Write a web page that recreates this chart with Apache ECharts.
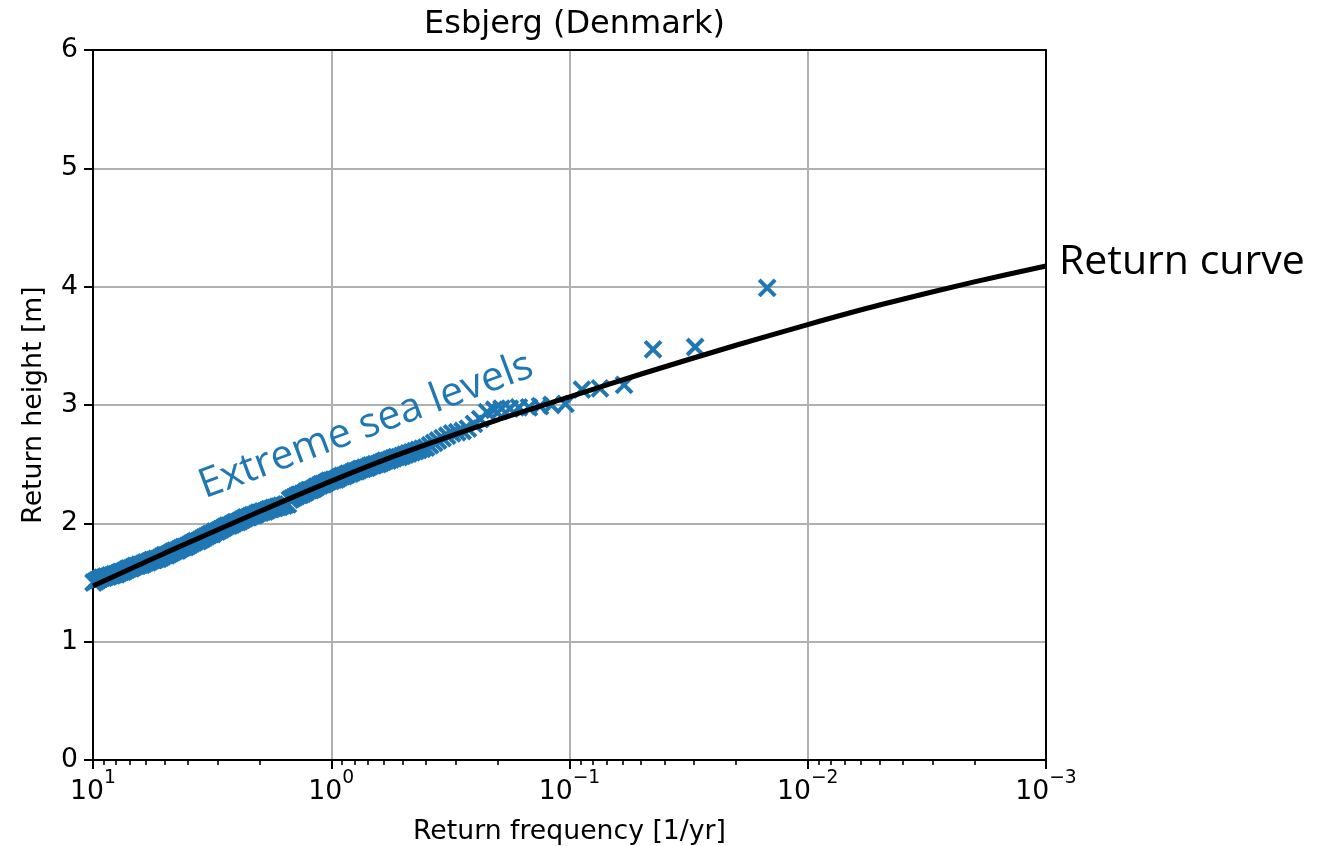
<!DOCTYPE html>
<html>
<head>
<meta charset="utf-8">
<script src="https://cdn.jsdelivr.net/npm/echarts@6/dist/echarts.min.js"></script>
<style>
  html, body { margin: 0; padding: 0; background: #fff; }
  #chart { width: 1317px; height: 846px; }
</style>
</head>
<body>
<div id="chart"></div>
<script>
// Labels
const chartTitle = 'Esbjerg (Denmark)';
const xAxisName = 'Return frequency [1/yr]';
const yAxisName = 'Return height [m]';
const seaLabel = 'Extreme sea levels';
const curveLabel = 'Return curve';

// Axis ticks
const majorFreqTicks = [10, 1, 0.1, 0.01, 0.001];
const majorExponents = ['1', '0', '\u22121', '\u22122', '\u22123'];
const minorFreqTicks = [
  0.002, 0.003, 0.004, 0.005, 0.006, 0.007, 0.008, 0.009,
  0.02, 0.03, 0.04, 0.05, 0.06, 0.07, 0.08, 0.09,
  0.2, 0.3, 0.4, 0.5, 0.6, 0.7, 0.8, 0.9,
  2, 3, 4, 5, 6, 7, 8, 9
];
const heightTicks = { min: 0, max: 6, interval: 1 };

// Observed extreme sea levels: return frequency [1/yr] and height [m]
const seaFreq = [
  9.95, 9.75, 9.56, 9.37, 9.18, 9.00, 8.82, 8.64, 8.47, 8.30,
  8.13, 7.97, 7.81, 7.65, 7.50, 7.35, 7.20, 7.06, 6.92, 6.78,
  6.64, 6.51, 6.38, 6.25, 6.13, 6.00, 5.88, 5.77, 5.65, 5.54,
  5.43, 5.32, 5.21, 5.11, 5.01, 4.91, 4.81, 4.71, 4.62, 4.52,
  4.43, 4.35, 4.26, 4.17, 4.09, 4.01, 3.93, 3.85, 3.77, 3.70,
  3.62, 3.55, 3.48, 3.41, 3.34, 3.27, 3.21, 3.15, 3.08, 3.02,
  2.96, 2.90, 2.84, 2.79, 2.73, 2.68, 2.62, 2.57, 2.52, 2.47,
  2.42, 2.37, 2.32, 2.28, 2.23, 2.19, 2.14, 2.10, 2.06, 2.02,
  1.98, 1.94, 1.90, 1.86, 1.82, 1.79, 1.75, 1.72, 1.68, 1.65,
  1.62, 1.58, 1.55, 1.52, 1.49, 1.46, 1.43, 1.40, 1.37, 1.35,
  1.32, 1.29, 1.27, 1.24, 1.22, 1.19, 1.17, 1.15, 1.12, 1.10,
  1.08, 1.06, 1.04, 1.02, 1.00, 0.978, 0.958, 0.939, 0.920, 0.902,
  0.884, 0.866, 0.849, 0.832, 0.815, 0.799, 0.783, 0.767, 0.752, 0.737,
  0.722, 0.708, 0.693, 0.680, 0.666, 0.652, 0.637, 0.622, 0.607, 0.593,
  0.578, 0.563, 0.548, 0.533, 0.519, 0.504, 0.489, 0.474, 0.459, 0.444,
  0.430, 0.415, 0.400, 0.385, 0.370, 0.356, 0.341, 0.326, 0.311, 0.296,
  0.281, 0.267, 0.252, 0.237, 0.222, 0.207, 0.193, 0.178, 0.163, 0.148,
  0.133, 0.119, 0.104, 0.0887, 0.0745, 0.059, 0.0446, 0.0297, 0.0148
];
const seaHeight = [
  1.50, 1.51, 1.52, 1.53, 1.54, 1.54, 1.55, 1.55, 1.56, 1.56,
  1.57, 1.57, 1.58, 1.59, 1.59, 1.60, 1.61, 1.62, 1.62, 1.63,
  1.64, 1.64, 1.65, 1.65, 1.66, 1.67, 1.67, 1.68, 1.69, 1.69,
  1.70, 1.70, 1.71, 1.72, 1.73, 1.73, 1.74, 1.75, 1.76, 1.77,
  1.77, 1.78, 1.79, 1.80, 1.80, 1.81, 1.82, 1.83, 1.84, 1.85,
  1.85, 1.86, 1.87, 1.88, 1.89, 1.90, 1.91, 1.91, 1.93, 1.93,
  1.94, 1.95, 1.96, 1.97, 1.98, 1.98, 1.99, 2.00, 2.01, 2.01,
  2.02, 2.03, 2.04, 2.05, 2.05, 2.06, 2.07, 2.07, 2.08, 2.09,
  2.09, 2.10, 2.10, 2.11, 2.12, 2.12, 2.13, 2.13, 2.14, 2.14,
  2.15, 2.15, 2.16, 2.16, 2.20, 2.21, 2.22, 2.23, 2.24, 2.24,
  2.25, 2.26, 2.27, 2.28, 2.28, 2.29, 2.30, 2.31, 2.32, 2.33,
  2.33, 2.34, 2.35, 2.36, 2.36, 2.37, 2.37, 2.38, 2.39, 2.40,
  2.40, 2.41, 2.42, 2.42, 2.43, 2.44, 2.44, 2.45, 2.46, 2.46,
  2.47, 2.47, 2.48, 2.49, 2.49, 2.50, 2.50, 2.51, 2.52, 2.53,
  2.53, 2.54, 2.55, 2.56, 2.56, 2.57, 2.58, 2.59, 2.60, 2.61,
  2.62, 2.63, 2.64, 2.66, 2.68, 2.70, 2.72, 2.74, 2.76, 2.77,
  2.78, 2.80, 2.84, 2.88, 2.94, 2.96, 2.97, 2.97, 2.98, 2.98,
  2.99, 3.00, 3.01, 3.13, 3.14, 3.17, 3.47, 3.49, 3.99
];

// Fitted return curve
const curveFreq = [10, 5, 2, 1, 0.5, 0.2, 0.1, 0.05, 0.02, 0.01, 0.005, 0.002, 0.001];
const curveHeight = [1.47, 1.748, 2.10, 2.357, 2.595, 2.875, 3.068, 3.262, 3.505, 3.68, 3.845, 4.04, 4.175];

const BLUE = '#1f77b4';
const GRID_GRAY = '#b0b0b0';
const MPL_FONT = '"DejaVu Sans", sans-serif';
const NOTE_FONT = '"Open Sans", "Noto Sans", sans-serif';

const seaPoints = seaFreq.map((f, i) => [f, seaHeight[i]]);
const curvePoints = curveFreq.map((f, i) => [f, curveHeight[i]]);

function exponentOf(v) {
  const i = majorFreqTicks.findIndex(t => Math.abs(Math.log10(t) - Math.log10(v)) < 1e-6);
  return i >= 0 ? majorExponents[i] : '';
}

const freqRange = { type: 'log', logBase: 10, min: 0.001, max: 10, inverse: true, gridIndex: 0 };
const hidden = { axisLabel: { show: false }, axisTick: { show: false }, splitLine: { show: false } };
const spine = { show: true, lineStyle: { color: '#000', width: 2 } };

const chart = echarts.init(document.getElementById('chart'), null, { renderer: 'canvas' });

chart.setOption({
  animation: false,
  backgroundColor: '#fff',
  title: {
    text: chartTitle,
    left: 569.5,
    top: 4,
    textAlign: 'center',
    textStyle: { fontFamily: MPL_FONT, fontSize: 32, fontWeight: 'normal', color: '#000' }
  },
  grid: { left: 93, right: 271, top: 50, bottom: 86, containLabel: false, outerBoundsMode: 'none' },
  xAxis: [
    Object.assign({}, freqRange, {
      position: 'bottom',
      name: xAxisName, nameLocation: 'middle', nameGap: 59,
      nameTextStyle: { fontFamily: MPL_FONT, fontSize: 26.7, color: '#000' },
      axisLine: spine,
      axisTick: { show: true, inside: false, length: 9, customValues: majorFreqTicks, lineStyle: { color: '#000', width: 2 } },
      axisLabel: {
        show: true, margin: 9, customValues: majorFreqTicks,
        formatter: v => '{b|10}{e|' + exponentOf(v) + '}',
        rich: {
          b: { fontFamily: MPL_FONT, fontSize: 26.7, color: '#000', padding: [10, 0, 0, 0], verticalAlign: 'bottom' },
          e: { fontFamily: MPL_FONT, fontSize: 18.7, color: '#000', verticalAlign: 'top' }
        }
      },
      splitLine: { show: true, lineStyle: { color: GRID_GRAY, width: 2 } },
      minorTick: { show: false },
      z: 2
    }),
    // minor ticks of the log axis
    Object.assign({}, freqRange, {
      position: 'bottom',
      axisLine: { show: false },
      axisLabel: { show: false },
      splitLine: { show: false },
      axisTick: { show: true, inside: false, length: 5, customValues: minorFreqTicks, lineStyle: { color: '#000', width: 1.6 } },
      z: 2
    }),
    // top spine
    Object.assign({}, freqRange, hidden, { position: 'top', axisLine: spine, z: 5 })
  ],
  yAxis: [
    {
      type: 'value',
      min: heightTicks.min, max: heightTicks.max, interval: heightTicks.interval,
      position: 'left',
      name: yAxisName, nameLocation: 'middle', nameGap: 45,
      nameTextStyle: { fontFamily: MPL_FONT, fontSize: 26.7, color: '#000' },
      axisLine: spine,
      axisTick: { show: true, inside: false, length: 9, lineStyle: { color: '#000', width: 2 } },
      axisLabel: { fontFamily: MPL_FONT, fontSize: 26.7, color: '#000', margin: 15 },
      splitLine: { show: true, lineStyle: { color: GRID_GRAY, width: 2 } },
      z: 2
    },
    // right spine
    Object.assign({
      type: 'value', min: heightTicks.min, max: heightTicks.max, interval: heightTicks.interval,
      position: 'right', axisLine: spine, z: 5
    }, hidden)
  ],
  series: [
    {
      name: seaLabel,
      type: 'scatter',
      xAxisIndex: 0,
      yAxisIndex: 0,
      data: seaPoints,
      symbol: 'path://M0,0L10,10M10,0L0,10',
      symbolSize: 16,
      itemStyle: { color: BLUE, borderColor: BLUE, borderWidth: 4, opacity: 1 },
      z: 3
    },
    {
      name: curveLabel,
      type: 'line',
      xAxisIndex: 0,
      yAxisIndex: 0,
      data: curvePoints,
      smooth: 0.25,
      showSymbol: false,
      lineStyle: { color: '#000', width: 5 },
      z: 4
    }
  ]
});

// Annotations: the curve name sits just past the curve's last point
const curveEnd = chart.convertToPixel({ xAxisIndex: 0, yAxisIndex: 0 }, curvePoints[curvePoints.length - 1]);
chart.setOption({
  graphic: [
    {
      type: 'text',
      x: curveEnd[0] + 13, y: curveEnd[1] - 4,
      z: 10,
      style: {
        text: curveLabel,
        fill: '#000',
        font: '41px ' + NOTE_FONT,
        align: 'left',
        verticalAlign: 'middle'
      }
    },
    {
      type: 'text',
      x: 366, y: 426,
      rotation: 20.4 * Math.PI / 180,
      z: 10,
      style: {
        text: seaLabel,
        fill: BLUE,
        font: '41px ' + NOTE_FONT,
        align: 'center',
        verticalAlign: 'middle'
      }
    }
  ]
});
</script>
</body>
</html>
